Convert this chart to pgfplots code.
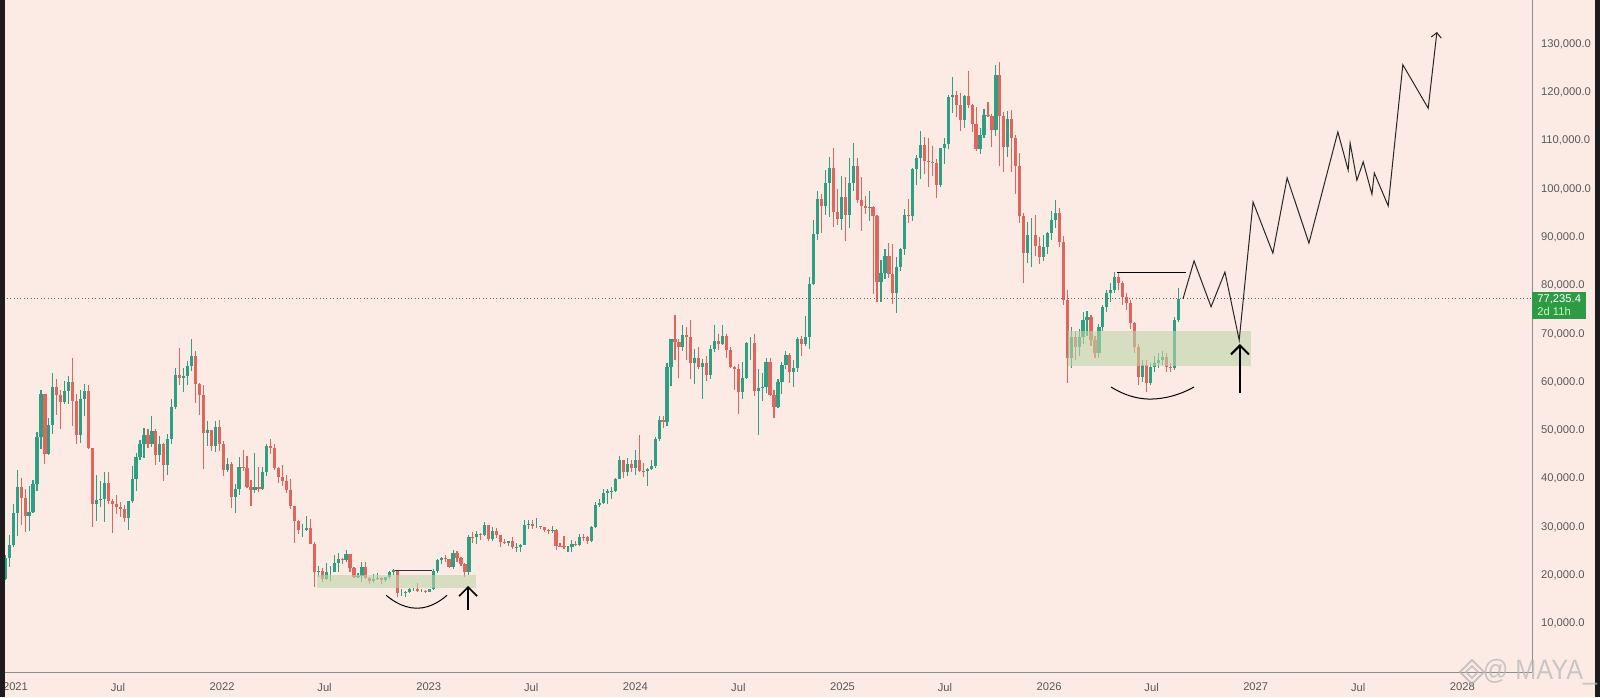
\documentclass[border=0pt]{standalone}
\usepackage{fontspec}
\setmainfont{Liberation Sans}
\usepackage{pgfplots}
\pgfplotsset{compat=1.18}
\usepackage{pgfplotstable}
\usetikzlibrary{arrows.meta}
\definecolor{bgc}{HTML}{FCEBE5}
\definecolor{upc}{HTML}{2DA083}
\definecolor{dnc}{HTML}{DF655D}
\definecolor{boxc}{HTML}{BFD4A8}
\definecolor{lblc}{HTML}{2E9A45}
\definecolor{barc}{HTML}{1C1C1C}

\pgfplotstableread{
i o h l c
-4 18.8 19.4 17.6 19.2
-3 19.2 24.3 19.0 23.5
-2 23.5 28.4 21.8 26.3
-1 26.3 34.8 25.9 33.0
0 33.0 41.9 28.1 38.2
1 38.2 40.1 30.4 36.0
2 36.0 37.9 28.9 32.3
3 32.3 38.5 29.2 33.1
4 33.1 39.8 33.0 38.9
5 38.9 49.7 37.4 48.6
6 48.6 58.3 46.2 57.5
7 57.5 57.5 43.0 45.2
8 45.2 52.6 45.0 51.2
9 51.2 61.8 49.3 59.0
10 59.0 60.6 53.3 57.4
11 57.4 58.4 50.4 55.8
12 55.8 60.2 55.5 58.2
13 58.2 61.2 55.5 60.0
14 60.0 64.9 50.9 56.2
15 56.2 57.5 47.2 49.1
16 49.1 58.4 47.5 56.6
17 56.6 59.6 52.9 58.2
18 58.2 59.5 46.3 46.4
19 46.4 46.4 30.0 34.7
20 34.7 40.8 31.2 35.7
21 35.7 39.5 34.1 35.8
22 35.8 41.3 31.1 39.1
23 39.1 41.3 34.8 35.5
24 35.5 35.8 28.8 34.7
25 34.7 36.6 32.7 34.2
26 34.2 35.1 32.1 33.8
27 33.8 34.6 31.0 31.8
28 31.8 35.4 29.3 35.4
29 35.4 42.6 34.9 39.9
30 39.9 45.3 37.5 44.6
31 44.6 48.1 43.8 47.1
32 47.1 50.5 44.4 49.0
33 49.0 50.4 46.4 47.1
34 47.1 52.9 46.6 49.9
35 49.9 50.4 42.8 45.0
36 45.0 48.8 43.4 47.3
37 47.3 47.4 39.6 42.8
38 42.8 49.2 40.8 48.2
39 48.2 56.6 47.1 54.9
40 54.9 62.9 54.4 61.5
41 61.5 67.0 59.5 60.9
42 60.9 63.0 57.9 61.3
43 61.3 64.3 59.5 63.3
44 63.3 69.0 62.3 65.5
45 65.5 66.4 55.6 59.7
46 59.7 59.9 53.3 57.3
47 57.3 59.4 42.0 49.4
48 49.4 51.9 46.8 50.1
49 50.1 50.2 45.7 46.7
50 46.7 51.9 45.5 50.8
51 50.8 52.1 45.7 47.3
52 47.3 47.9 40.5 41.9
53 41.9 44.3 41.3 43.1
54 43.1 43.5 34.0 36.3
55 36.3 38.9 32.9 37.9
56 37.9 44.5 36.6 42.4
57 42.4 45.9 41.7 42.2
58 42.2 44.7 38.0 38.4
59 38.4 39.8 34.3 37.7
60 37.7 45.4 37.1 38.4
61 38.4 42.4 37.2 37.8
62 37.8 42.4 37.6 41.3
63 41.3 47.1 40.5 46.8
64 46.8 48.2 45.2 46.4
65 46.4 47.2 41.9 42.2
66 42.2 42.4 39.2 40.4
67 40.4 42.9 38.6 39.5
68 39.5 40.8 37.1 37.6
69 37.6 40.0 33.7 34.3
70 34.3 34.3 26.7 31.3
71 31.3 31.5 28.6 29.4
72 29.4 30.6 28.0 29.4
73 29.4 32.3 29.2 29.9
74 29.9 31.6 26.6 26.6
75 26.6 26.9 17.6 20.6
76 20.6 21.9 19.6 21.0
77 21.0 21.5 18.6 19.3
78 19.3 22.5 19.0 20.8
79 20.8 21.9 18.9 20.8
80 20.8 24.3 20.7 22.6
81 22.6 24.6 20.7 23.3
82 23.3 23.6 22.4 23.2
83 23.2 25.2 22.7 24.4
84 24.4 24.4 20.8 21.5
85 21.5 21.8 19.5 19.6
86 19.6 20.5 19.5 19.9
87 19.9 22.8 18.6 21.8
88 21.8 22.7 19.3 19.4
89 19.4 19.7 18.2 18.8
90 18.8 20.2 18.5 19.3
91 19.3 20.4 19.1 19.4
92 19.4 19.6 18.2 19.1
93 19.1 19.7 18.7 19.6
94 19.6 20.9 19.2 20.6
95 20.6 21.4 20.1 21.1
96 21.1 21.1 15.6 16.3
97 16.3 17.2 15.8 16.3
98 16.3 16.7 15.5 16.5
99 16.5 17.4 16.4 17.1
100 17.1 17.4 16.7 17.1
101 17.1 18.4 16.5 16.8
102 16.8 17.1 16.5 16.8
103 16.8 16.9 16.5 16.6
104 16.6 17.2 16.5 17.1
105 17.1 21.3 17.0 20.9
106 20.9 23.3 20.4 23.1
107 23.1 23.8 22.3 23.7
108 23.7 24.2 22.8 23.3
109 23.3 23.4 21.7 21.8
110 21.8 25.2 21.4 24.6
111 24.6 25.0 22.8 23.6
112 23.6 23.9 21.9 22.4
113 22.4 22.6 19.6 20.6
114 20.6 28.4 20.1 28.0
115 28.0 28.9 26.7 27.9
116 27.9 29.2 26.6 28.5
117 28.5 28.7 27.3 28.3
118 28.3 31.0 28.2 30.5
119 30.5 30.5 27.2 27.6
120 27.6 30.0 27.1 29.2
121 29.2 29.8 27.7 28.4
122 28.4 28.4 25.8 26.9
123 26.9 27.5 26.6 26.8
124 26.8 27.1 26.1 27.1
125 27.1 28.0 25.4 25.8
126 25.8 26.8 24.9 25.9
127 25.9 26.6 24.8 26.3
128 26.3 31.4 26.3 30.5
129 30.5 31.4 29.5 30.6
130 30.6 31.5 29.7 30.2
131 30.2 31.8 29.9 30.2
132 30.2 30.3 29.6 30.1
133 30.1 30.1 28.9 29.3
134 29.3 29.6 28.6 29.1
135 29.1 30.2 28.8 29.4
136 29.4 29.5 25.2 26.1
137 26.1 26.8 25.8 26.0
138 26.0 28.1 25.4 25.8
139 25.8 26.0 24.9 25.8
140 25.8 27.4 24.9 26.5
141 26.5 27.2 26.0 26.3
142 26.3 28.6 26.0 28.0
143 28.0 28.6 27.2 27.9
144 27.9 28.1 26.6 27.2
145 27.2 30.3 26.9 30.0
146 30.0 35.2 29.8 34.5
147 34.5 35.9 34.1 35.0
148 35.0 37.9 34.7 37.1
149 37.1 37.9 34.8 37.4
150 37.4 38.4 35.8 37.5
151 37.5 40.2 37.3 39.9
152 39.9 44.7 39.9 43.8
153 43.8 43.8 40.2 41.4
154 41.4 44.3 40.6 43.0
155 43.0 43.8 41.5 42.3
156 42.3 45.9 40.8 43.9
157 43.9 49.0 41.5 41.7
158 41.7 43.2 40.3 41.6
159 41.6 42.2 38.5 42.0
160 42.0 43.9 41.8 42.6
161 42.6 48.6 42.3 48.3
162 48.3 52.9 47.9 52.1
163 52.1 52.9 50.6 51.7
164 51.7 64.0 50.9 63.1
165 63.1 69.0 59.2 68.9
166 68.9 73.8 64.5 68.4
167 68.4 68.9 60.8 67.2
168 67.2 71.8 66.5 69.7
169 69.7 71.4 64.5 69.4
170 69.4 72.8 60.7 63.9
171 63.9 66.9 59.7 64.9
172 64.9 67.2 62.8 63.1
173 63.1 64.7 56.5 64.0
174 64.0 65.5 60.2 61.5
175 61.5 67.7 60.7 66.9
176 66.9 71.9 66.3 68.5
177 68.5 70.0 66.6 67.8
178 67.8 71.9 67.6 69.6
179 69.6 70.0 65.1 66.6
180 66.6 67.2 63.0 63.2
181 63.2 63.4 58.4 62.7
182 62.7 63.8 53.5 58.0
183 58.0 64.1 56.5 60.8
184 60.8 68.4 60.6 68.2
185 68.2 69.4 64.5 68.2
186 68.2 70.0 57.1 58.1
187 58.1 62.7 49.0 58.7
188 58.7 61.8 56.1 58.9
189 58.9 64.9 57.8 64.2
190 64.2 65.0 57.2 57.3
191 57.3 58.3 52.5 54.8
192 54.8 60.7 54.6 60.0
193 60.0 64.1 57.6 63.6
194 63.6 66.5 62.7 65.6
195 65.6 66.0 59.8 62.1
196 62.1 64.5 58.9 63.0
197 63.0 69.4 62.1 69.0
198 69.0 69.5 65.5 68.0
199 68.0 73.6 67.5 69.4
200 69.4 81.8 66.8 80.4
201 80.4 93.5 80.2 90.6
202 90.6 99.6 89.4 97.9
203 97.9 98.9 90.8 96.4
204 96.4 104.0 94.5 101.2
205 101.2 106.6 94.2 104.4
206 104.4 108.4 92.2 95.2
207 95.2 99.9 92.5 93.7
208 93.7 102.7 91.5 98.3
209 98.3 102.5 89.3 94.5
210 94.5 106.4 92.0 101.3
211 101.3 109.6 99.5 104.7
212 104.7 106.4 97.1 97.7
213 97.7 102.5 91.2 96.5
214 96.5 98.5 94.9 96.1
215 96.1 99.5 93.4 96.3
216 96.3 96.5 78.2 94.3
217 94.3 94.5 76.6 80.7
218 80.7 85.3 76.6 82.6
219 82.6 87.5 81.3 86.1
220 86.1 88.8 81.6 82.3
221 82.3 88.5 76.2 78.4
222 78.4 86.0 74.4 83.8
223 83.8 87.8 83.1 87.5
224 87.5 95.8 86.3 94.6
225 94.6 97.9 92.9 94.3
226 94.3 104.3 93.4 104.1
227 104.1 107.1 100.8 106.5
228 106.5 111.9 102.0 109.0
229 109.0 110.7 103.1 105.7
230 105.7 110.6 100.4 105.6
231 105.6 108.9 102.7 105.4
232 105.4 106.2 98.2 100.9
233 100.9 108.5 100.4 108.4
234 108.4 110.5 105.1 109.2
235 109.2 119.5 108.3 119.0
236 119.0 123.2 115.7 119.4
237 119.4 120.2 114.8 117.3
238 117.3 119.8 111.9 114.2
239 114.2 119.4 112.6 119.3
240 119.3 124.5 116.8 117.4
241 117.4 117.6 111.7 113.5
242 113.5 117.0 107.8 108.2
243 108.2 112.6 107.3 111.1
244 111.1 116.5 110.6 115.3
245 115.3 117.9 114.8 115.2
246 115.2 115.5 108.6 112.2
247 112.2 125.7 111.0 123.5
248 123.5 126.2 104.8 115.1
249 115.1 115.9 103.5 108.6
250 108.6 116.1 106.7 114.5
251 114.5 116.4 103.5 110.5
252 110.5 111.1 98.9 104.7
253 104.7 107.5 93.0 94.4
254 94.4 95.0 80.6 86.8
255 86.8 93.1 84.6 90.4
256 90.4 93.9 83.9 90.4
257 90.4 94.6 86.2 88.2
258 88.2 90.0 84.5 86.0
259 86.0 90.5 85.0 88.0
260 88.0 91.0 86.5 90.9
261 90.9 95.5 89.5 93.5
262 93.5 97.7 92.0 95.0
263 95.0 96.0 88.0 89.0
264 89.0 90.2 76.0 77.0
265 77.0 79.0 59.8 65.0
266 65.0 71.5 63.0 69.3
267 69.3 70.5 64.5 67.3
268 67.3 71.0 65.5 69.3
269 69.3 74.5 68.0 72.9
270 72.9 74.8 69.5 73.5
271 73.5 74.0 67.5 68.7
272 68.7 69.5 65.0 66.0
273 66.0 72.0 65.0 71.4
274 71.4 76.0 70.5 75.6
275 75.6 79.0 74.5 78.5
276 78.5 80.5 76.5 79.1
277 79.1 82.8 78.5 81.8
278 81.8 82.5 79.0 80.5
279 80.5 81.0 76.0 77.6
280 77.6 78.5 75.0 76.4
281 76.4 77.0 71.0 72.2
282 72.2 72.5 66.0 67.3
283 67.3 68.0 59.4 61.0
284 61.0 64.5 60.0 63.5
285 63.5 64.5 58.0 59.8
286 59.8 64.0 59.5 63.1
287 63.1 65.5 62.0 64.0
288 64.0 66.0 63.0 64.6
289 64.6 66.5 63.5 65.2
290 65.2 66.0 62.0 63.1
291 63.1 64.0 62.0 62.9
292 62.9 73.5 62.5 72.9
293 72.9 79.5 72.5 77.2
}\btc

\begin{document}
\begin{tikzpicture}
\useasboundingbox (0,0) rectangle (800pt,348.5pt);
\fill[bgc] (0,0) rectangle (800pt,348.5pt);
\begin{axis}[
  at={(0pt,12.5pt)}, anchor=south west,
  scale only axis, width=766pt, height=336pt,
  xmin=-4.34, xmax=382.3, ymin=0, ymax=139.11,
  axis x line*=bottom, axis y line*=right,
  x axis line style={-}, y axis line style={-},
  axis line style={draw=black!45, line width=0.5pt},
  tick style={draw=none},
  xtick={-0.43,25.43,51.71,77.57,103.86,129.71,156.0,182.0,208.29,234.14,260.43,286.29,312.57,338.43,364.71},
  xticklabels={2021,Jul,2022,Jul,2023,Jul,2024,Jul,2025,Jul,2026,Jul,2027,Jul,2028},
  ytick={10,20,30,40,50,60,70,80,90,100,110,120,130},
  yticklabels={{10,000.0},{20,000.0},{30,000.0},{40,000.0},{50,000.0},{60,000.0},{70,000.0},{80,000.0},{90,000.0},{100,000.0},{110,000.0},{120,000.0},{130,000.0}},
  ticklabel style={font=\fontsize{5.6}{6.5}\selectfont, text=black!65},
  xticklabel style={yshift=-2pt},
  yticklabel style={xshift=1pt},
  clip mode=individual,
]
% wicks
\addplot[draw=none, no markers, restrict expr to domain={\thisrow{c}-\thisrow{o}}{0:1000},
  error bars/.cd, y dir=both, y explicit, error mark=none,
  error bar style={line width=0.55pt, draw=upc}]
  table[x=i, y=c, y error plus expr=\thisrow{h}-\thisrow{c}, y error minus expr=\thisrow{c}-\thisrow{l}] {\btc};
\addplot[draw=none, no markers, restrict expr to domain={\thisrow{c}-\thisrow{o}}{-1000:-0.001},
  error bars/.cd, y dir=both, y explicit, error mark=none,
  error bar style={line width=0.55pt, draw=dnc}]
  table[x=i, y=c, y error plus expr=\thisrow{h}-\thisrow{c}, y error minus expr=\thisrow{c}-\thisrow{l}] {\btc};
% bodies
\addplot[draw=none, no markers, restrict expr to domain={\thisrow{c}-\thisrow{o}}{0:1000},
  error bars/.cd, y dir=both, y explicit, error mark=none,
  error bar style={line width=1.6pt, draw=upc}]
  table[x=i, y=c, y error plus expr={max(0,\thisrow{o}-\thisrow{c})}, y error minus expr={max(0,\thisrow{c}-\thisrow{o})}] {\btc};
\addplot[draw=none, no markers, restrict expr to domain={\thisrow{c}-\thisrow{o}}{-1000:-0.001},
  error bars/.cd, y dir=both, y explicit, error mark=none,
  error bar style={line width=1.6pt, draw=dnc}]
  table[x=i, y=c, y error plus expr={max(0,\thisrow{o}-\thisrow{c})}, y error minus expr={max(0,\thisrow{c}-\thisrow{o})}] {\btc};

% current price line
\addplot[black!60, line width=0.45pt, dash pattern=on 0.5pt off 1.2pt] coordinates {(-4.34,77.2354) (382.3,77.2354)};

% zones
\fill[boxc, fill opacity=0.6] (axis cs:75.7,17.4) rectangle (axis cs:115.8,20.1);
\fill[boxc, fill opacity=0.6] (axis cs:265.2,63.3) rectangle (axis cs:311.4,70.6);
\draw[black!80, line width=0.5pt] (axis cs:95.3,21.1) -- (axis cs:104.7,21.1);
\draw[black, line width=0.5pt] (axis cs:277.6,82.8) -- (axis cs:295.0,82.8);
\draw[black, line width=0.5pt] (axis cs:93.1,15.9) parabola bend (axis cs:100.9,13.2) (axis cs:108.5,15.9);
\draw[black, line width=0.5pt] (axis cs:276.05,59.0) parabola bend (axis cs:285.9,56.5) (axis cs:297.0,59.0);
\draw[black, line width=0.8pt, -{Straight Barb[length=4.5pt,width=9pt]}] (axis cs:113.8,12.8) -- (axis cs:113.8,17.8);
\draw[black, line width=1pt, -{Straight Barb[length=4.5pt,width=9pt]}] (axis cs:308.6,57.8) -- (axis cs:308.6,67.9);

% projection
\addplot[black!85, line width=0.5pt, -{Straight Barb[length=2.5pt,width=5pt]}] coordinates {
(294.2,77.2) (297.0,85.1) (301.3,75.6) (304.8,82.8) (308.4,68.7) (311.9,97.3) (316.9,86.7) (320.5,102.3) (326.0,88.8) (333.3,111.8) (335.9,103.9) (336.4,109.5) (338.1,101.8) (339.7,105.6) (341.9,98.9) (342.5,103.3) (346.0,96.5) (349.7,125.7) (356.1,116.7) (358.3,132.5)};

% price label
\node[fill=lblc, anchor=north west, inner xsep=2.5pt, inner ysep=1.5pt, align=left,
  font=\fontsize{5.6}{6.4}\selectfont, text=white, minimum width=26pt]
  at (axis cs:382.3,77.2354) [yshift=3.6pt] {77,235.4\\\textcolor{green!25!white}{2d 11h}};
\end{axis}
% window borders
\fill[barc] (0,0) rectangle (2.5pt,348.5pt);
\fill[barc] (797.5pt,0) rectangle (800pt,348.5pt);
% watermark
\draw[gray!60, opacity=0.7, line width=1pt] (730pt,12.5pt) -- (736pt,18.5pt) -- (742pt,12.5pt) -- (736pt,6.5pt) -- cycle;
\draw[gray!60, opacity=0.7, line width=0.8pt] (733pt,12.5pt) -- (736pt,15.5pt) -- (739pt,12.5pt) -- (736pt,9.5pt) -- cycle;
\node[text=gray!55, opacity=0.75, font=\fontsize{14}{14}\selectfont, xscale=0.9] at (770pt,12.5pt) {@ MAYA\_};
\end{tikzpicture}
\end{document}
